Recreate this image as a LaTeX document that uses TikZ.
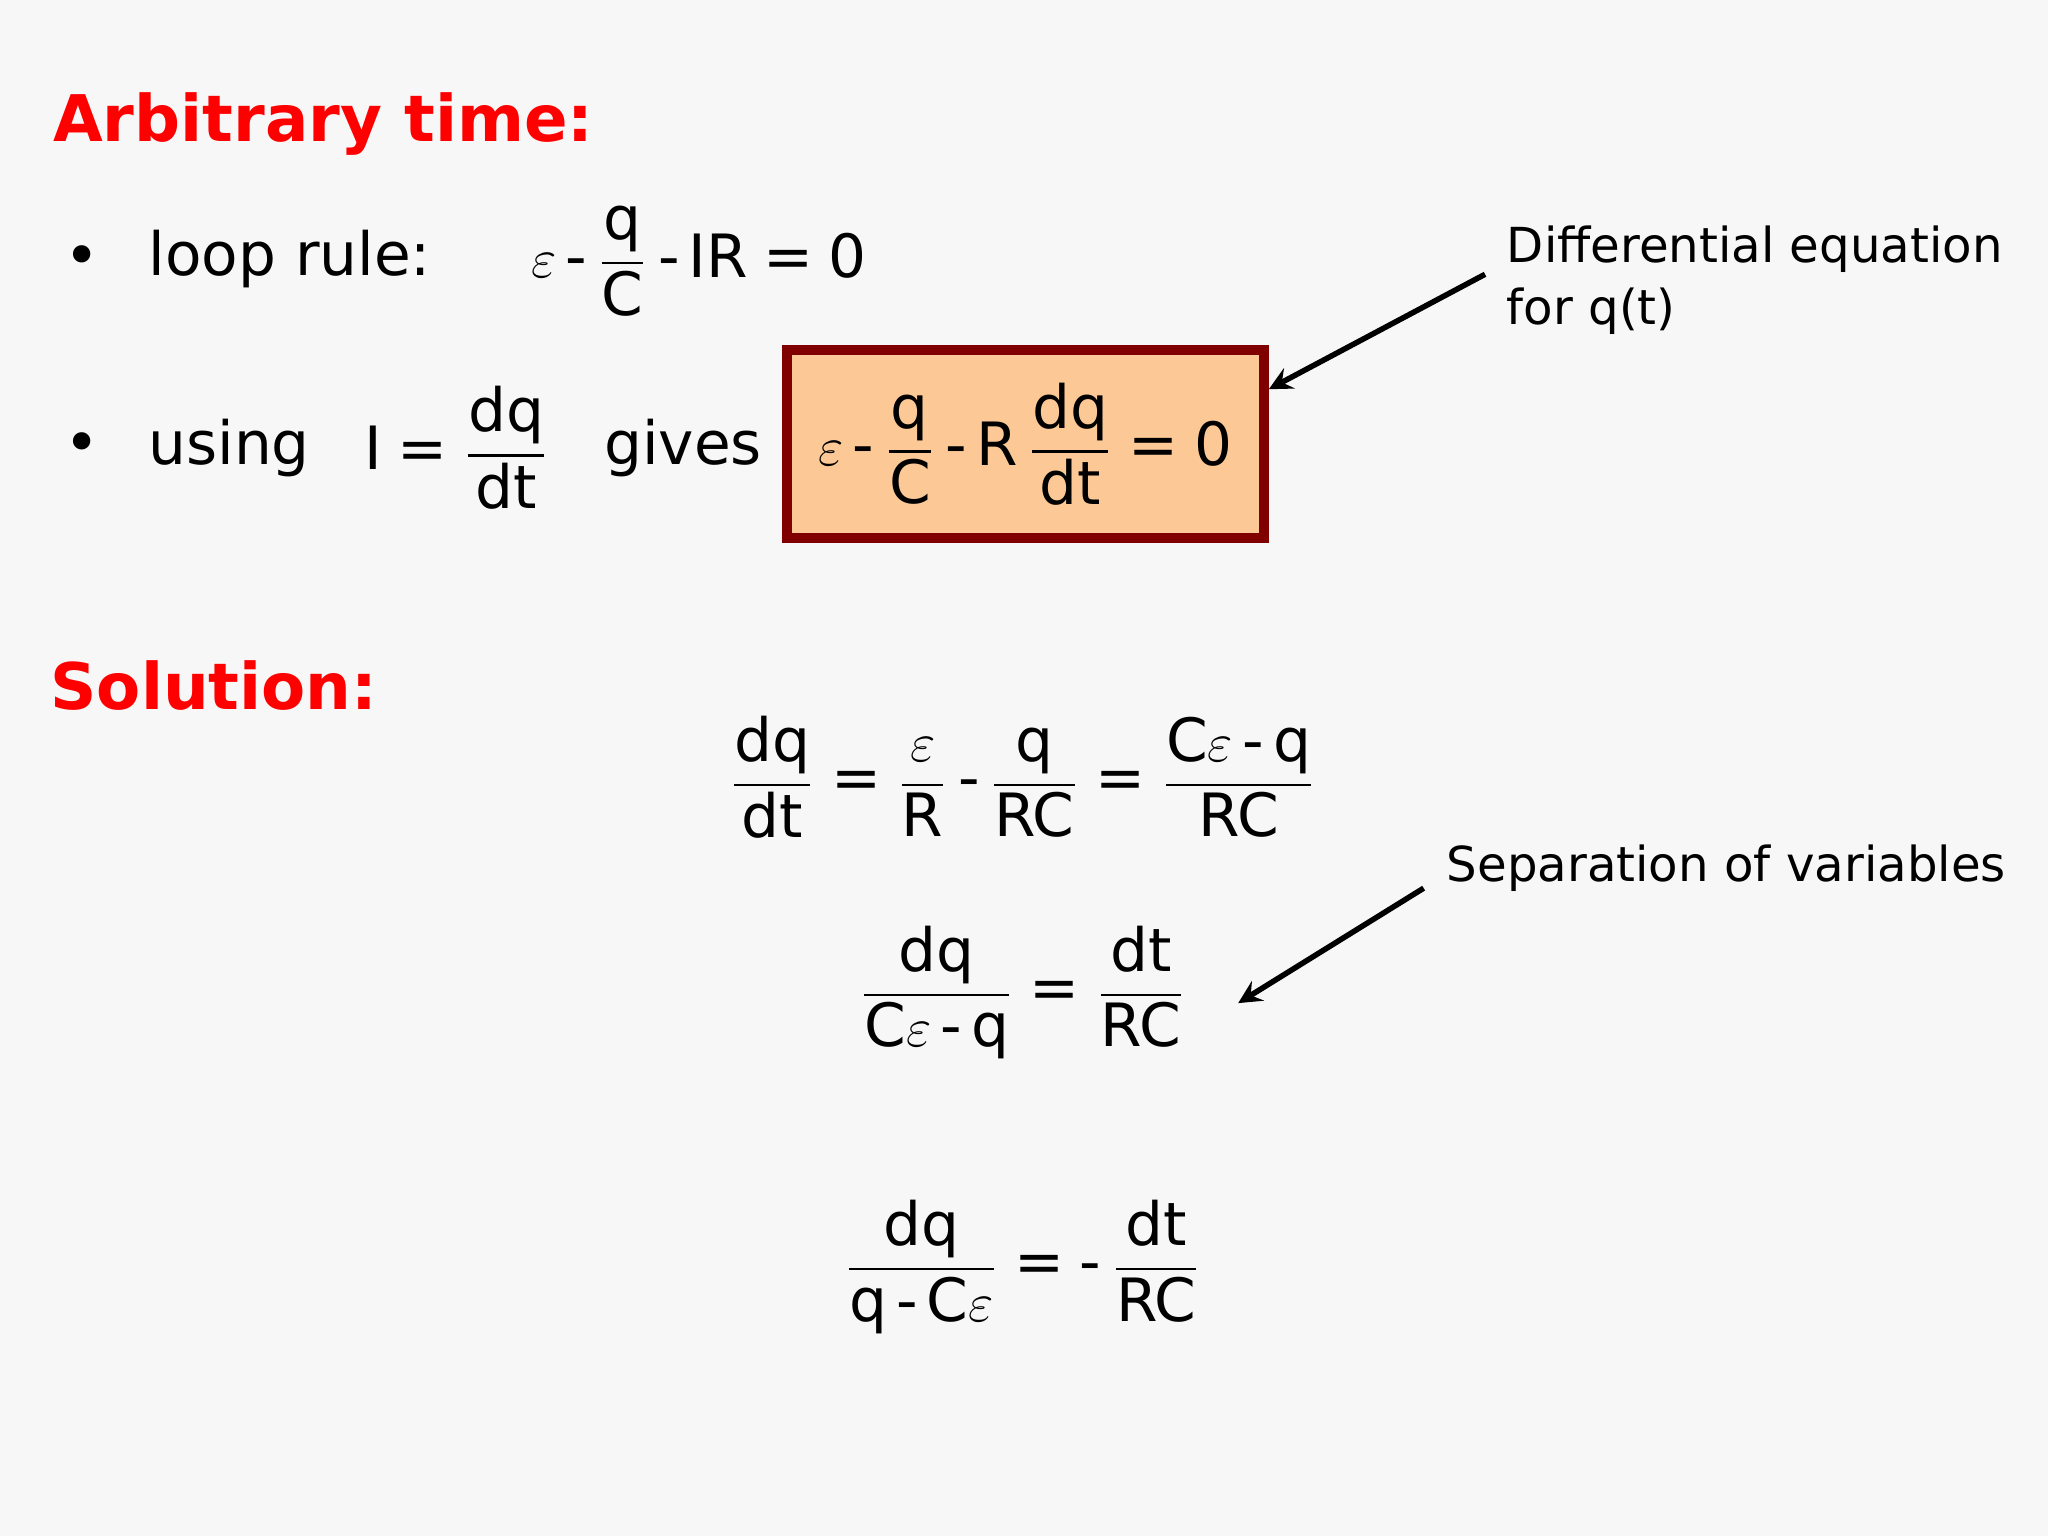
\documentclass[tikz,border=0pt]{standalone}
\usepackage{amsmath}
\usepackage{fontspec}
\setmainfont{DejaVu Sans}
\newcommand{\tx}[1]{\textrm{#1}}
\newcommand{\fr}[2]{\dfrac{\tx{#1}}{\tx{#2}}}
\newcommand{\mi}{\,\tx{-}\,}
\newcommand{\eqs}{\mathrel{\tx{=}}}
\begin{document}
\begin{tikzpicture}[x=0.01cm,y=-0.01cm,
  body/.style={font=\fontsize{13}{15}\selectfont, inner sep=0pt},
  title/.style={font=\fontsize{14}{16}\selectfont\bfseries, text=red, anchor=west, inner sep=0pt},
  note/.style={font=\fontsize{10.5}{13.5}\selectfont, anchor=north west, align=left, inner sep=0pt},
  arr/.style={-stealth, line width=1.2pt}]
\fill[white!97!black] (0,0) rectangle (1568,1176);
\useasboundingbox (0,0) rectangle (1568,1176);
\node[title] (t1) at (40,95) {Arbitrary time:};
\node[body] (b1) at (63,200) {\textbullet};
\node[body, anchor=west] (l1) at (113,198) {loop rule:};
\node[body] (e1) at (535,200) {$\varepsilon\mi\fr{q}{C}\mi\tx{IR}\eqs\tx{0}$};
\node[body] (b2) at (63,343) {\textbullet};
\node[body, anchor=west] (l2) at (113,343) {using};
\node[body] (e2) at (350,343) {$\tx{I}\eqs\fr{dq}{dt}$};
\node[body] (g) at (523,343) {gives};
\node[body, draw=red!50!black, line width=2.2pt, fill={rgb,255:red,252;green,201;blue,150},
  minimum width=3.65cm, minimum height=1.44cm] (box) at (785,340)
  {$\varepsilon\mi\fr{q}{C}\mi\tx{R}\,\fr{dq}{dt}\eqs\tx{0}$};
\node[note] (n1) at (1153,172) {Differential equation\\for q(t)};
\coordinate (a1) at (1137,210);
\draw[arr] (a1) -- (box.east |- 0,298);
\node[title] (t2) at (38,525) {Solution:};
\node[body] (e3) at (783,595) {$\fr{dq}{dt}\eqs\dfrac{\varepsilon}{\tx{R}}\mi\fr{q}{RC}\eqs\dfrac{\tx{C}\varepsilon\mi\tx{q}}{\tx{RC}}$};
\node[body] (e4) at (783,760) {$\dfrac{\tx{dq}}{\tx{C}\varepsilon\mi\tx{q}}\eqs\fr{dt}{RC}$};
\node[body] (e5) at (783,970) {$\dfrac{\tx{dq}}{\tx{q}\mi\tx{C}\varepsilon}\eqs\tx{-}\,\fr{dt}{RC}$};
\node[note, anchor=west] (n2) at (1107,665) {Separation of variables};
\coordinate (a2) at (1090,680);
\coordinate (a2e) at (948,768);
\draw[arr] (a2) -- (a2e);
\end{tikzpicture}
\end{document}
